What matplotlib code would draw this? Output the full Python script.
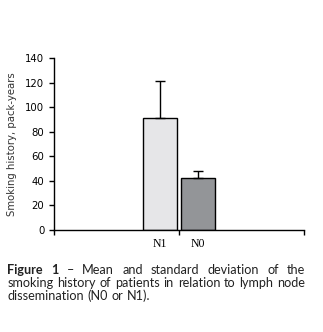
import matplotlib
matplotlib.use('Agg')
from matplotlib import pyplot as plt

groups = ['N1', 'N0']
means = [91, 42]
sds = [30, 6]
colors = ['#e6e6e8', '#939598']
yticks = [0, 20, 40, 60, 80, 100, 120, 140]
caption_lines = [
    ['Figure', '1', '–', 'Mean', 'and', 'standard', 'deviation', 'of', 'the'],
    ['smoking', 'history', 'of', 'patients', 'in', 'relation', 'to', 'lymph', 'node'],
    ['dissemination', '(N0', 'or', 'N1).'],
]
bold_words = 2  # first two words of the caption are bold

fig = plt.figure(figsize=(3.23, 3.32), dpi=100)
ax = fig.add_axes([54 / 323, 102 / 332, 250 / 323, 172 / 332])

pos = [0.848, 1.152]
ax.bar(pos, means, width=0.272, color=colors, edgecolor='black', linewidth=1.0,
       yerr=[[0, 0], sds], capsize=3.5,
       error_kw=dict(elinewidth=1.0, capthick=1.0, ecolor='black'))

ax.set_xlim(0, 2)
ax.set_ylim(0, 140)
ax.set_yticks(yticks)
ax.set_xticks([0, 1, 2])
ax.set_xticklabels([])
for p, g in zip(pos, groups):
    ax.text(p, -11, g, ha='center', va='center', fontsize=8.5,
            family='Liberation Serif', transform=ax.transData)

for s in ['top', 'right']:
    ax.spines[s].set_visible(False)
for s in ['left', 'bottom']:
    ax.spines[s].set_linewidth(1.0)
ax.tick_params(axis='both', direction='out', length=3.4, width=1.0, pad=3.5,
               labelsize=7.3, colors='black')
ax.set_ylabel('Smoking history, pack-years', fontsize=7.3, color='#333333', labelpad=6)

# justified caption
renderer = fig.canvas.get_renderer()
left, right = 7.5, 305
ys = [270, 283, 295.5]
for i, (words, y) in enumerate(zip(caption_lines, ys)):
    texts = []
    for j, w in enumerate(words):
        bold = (i == 0 and j < bold_words)
        t = fig.text(0, 1 - y / 332, w, fontsize=9.1, family='Lato',
                     fontweight='bold' if bold else 'normal', va='center',
                     color='#222222')
        texts.append(t)
    widths = [t.get_window_extent(renderer).width for t in texts]
    if i < len(caption_lines) - 1:
        gap = (right - left - sum(widths)) / (len(words) - 1)
    else:
        gap = 3.5
    x = left
    for t, w in zip(texts, widths):
        t.set_x(x / 323)
        x += w + gap

fig.savefig('out.png', dpi=100)
